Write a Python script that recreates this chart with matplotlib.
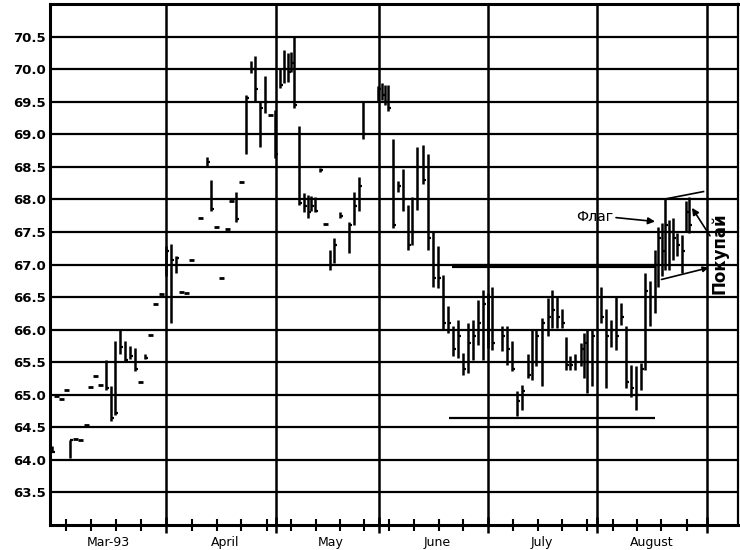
import matplotlib
matplotlib.use('Agg')
import numpy as np
import matplotlib.pyplot as plt
from matplotlib import transforms

# trading day index (1 unit = one session), high, low, close
days = [0.4, 1.2, 2.2, 3.2, 4.0, 5.0, 6.0, 7.2, 8.0, 9.0, 10.0, 11.2, 12.2, 13.0,
        14.0, 15.0, 16.0, 17.0, 18.0, 19.0, 20.0, 21.0, 22.2,
        23.2, 24.2, 25.2, 26.2, 27.2, 28.2, 30.0, 31.4, 32.2, 33.2, 34.2, 35.4,
        36.2, 37.2, 38.2, 39.2, 40.2, 41.0, 42.0, 43.0, 44.0, 45.0,
        46.0, 46.8, 47.6, 48.2, 48.8, 49.8, 50.8, 51.6, 52.2, 53.0, 54.0, 55.0,
        56.0, 56.8, 58.0, 59.8, 60.8, 61.8, 62.6, 65.6, 66.4, 67.0, 67.6,
        68.6, 69.6, 70.6, 71.6, 72.4, 73.4, 74.6, 75.6, 76.6, 77.6, 78.6, 79.6,
        80.6, 81.6, 82.6, 83.6, 84.6, 85.6, 86.6,
        87.6, 88.4, 90.4, 91.4, 92.4, 93.4, 94.4, 95.6, 96.4, 97.2, 98.4, 99.6,
        100.4, 101.4, 102.4, 103.2, 104.0, 105.0, 106.2, 106.8, 107.4, 108.4,
        110.2, 111.2, 112.2, 113.2, 114.2, 115.2, 116.2, 117.2, 118.2, 119.0,
        120.0, 121.0, 121.6, 122.4, 123.0, 123.8, 124.6, 125.4, 126.4, 127.2, 127.8]
highs = [64.22, 64.98, 64.93, 65.07, 64.31, 64.32, 64.30, 64.53, 65.12, 65.29, 65.15,
         65.54, 65.13, 65.82, 66.00, 65.82, 65.75, 65.72, 65.19, 65.62, 65.91, 66.40, 66.54,
         67.28, 67.32, 67.13, 66.58, 66.56, 67.07, 67.72, 68.65, 68.30, 67.58, 66.80, 67.55,
         67.98, 68.12, 68.26, 69.60, 70.12, 70.20, 69.49, 69.89, 69.29, 69.38,
         70.02, 70.30, 70.25, 70.27, 70.50, 69.12, 68.10, 68.07, 68.05, 68.03, 68.48, 67.62,
         67.23, 67.41, 67.80, 67.66, 68.12, 68.35, 69.49, 69.74, 69.79, 69.76, 69.76,
         68.92, 68.28, 68.46, 67.92, 68.03, 68.80, 68.84, 68.69, 67.51, 67.28, 66.84, 66.36,
         66.05, 66.15, 65.64, 66.10, 66.15, 66.46, 66.61,
         66.57, 66.65, 66.05, 66.05, 65.82, 65.05, 65.15, 65.62, 66.00, 66.00, 66.18, 66.49,
         66.61, 66.51, 66.31, 65.88, 65.59, 65.62, 65.80, 65.95, 66.00, 66.00,
         66.66, 66.31, 66.15, 66.51, 66.41, 66.05, 65.46, 65.44, 65.49, 66.87,
         66.74, 67.23, 67.57, 67.64, 68.00, 67.69, 67.72, 67.49, 67.46, 67.97, 68.03]
lows = [64.12, 64.98, 64.93, 65.07, 64.03, 64.32, 64.30, 64.53, 65.12, 65.29, 65.15,
        65.08, 64.59, 64.69, 65.62, 65.51, 65.55, 65.37, 65.19, 65.55, 65.91, 66.40, 66.54,
        66.82, 66.10, 66.87, 66.58, 66.56, 67.07, 67.72, 68.50, 67.82, 67.58, 66.80, 67.55,
        67.98, 67.66, 68.26, 68.69, 69.94, 69.50, 68.81, 69.33, 69.29, 68.64,
        69.71, 69.79, 69.80, 69.95, 69.40, 67.92, 67.80, 67.72, 67.82, 67.80, 68.42, 67.62,
        66.92, 67.03, 67.72, 67.18, 67.61, 67.82, 68.92, 69.51, 69.53, 69.45, 69.35,
        67.56, 68.12, 67.82, 67.23, 67.30, 67.84, 68.23, 67.23, 66.66, 66.64, 66.00, 65.95,
        65.59, 65.56, 65.31, 65.33, 65.54, 65.77, 65.54,
        65.72, 65.69, 65.67, 65.46, 65.36, 64.67, 64.77, 65.26, 65.23, 65.44, 65.13, 65.90,
        66.03, 66.03, 66.03, 65.38, 65.38, 65.38, 65.44, 65.26, 65.03, 65.13,
        66.10, 65.11, 65.74, 65.69, 66.07, 65.11, 64.97, 64.77, 65.08, 65.38,
        66.05, 66.26, 66.66, 66.82, 66.92, 66.92, 67.07, 67.13, 66.87, 67.51, 67.49]
closes = [64.12, 64.98, 64.93, 65.07, 64.31, 64.32, 64.30, 64.53, 65.12, 65.29, 65.15,
          65.10, 64.65, 64.72, 65.74, 65.53, 65.60, 65.40, 65.19, 65.56, 65.91, 66.40, 66.54,
          67.20, 67.07, 67.10, 66.58, 66.56, 67.07, 67.72, 68.58, 67.85, 67.58, 66.80, 67.55,
          67.98, 67.70, 68.26, 69.55, 70.00, 69.70, 69.40, 69.50, 69.29, 68.70,
          69.75, 70.00, 69.95, 70.10, 69.45, 67.95, 67.90, 67.80, 67.90, 67.82, 68.45, 67.62,
          67.00, 67.30, 67.75, 67.60, 67.90, 68.20, 69.00, 69.70, 69.60, 69.50, 69.40,
          67.60, 68.20, 68.00, 67.30, 67.50, 68.50, 68.30, 67.40, 66.80, 66.80, 66.10, 66.10,
          65.70, 65.90, 65.40, 65.80, 65.90, 66.10, 66.40,
          66.00, 65.80, 65.90, 65.70, 65.40, 64.90, 65.05, 65.30, 65.50, 65.90, 66.10, 66.20,
          66.30, 66.20, 66.10, 65.45, 65.45, 65.50, 65.70, 65.80, 65.50, 65.90,
          66.20, 65.90, 66.00, 65.90, 66.20, 65.20, 65.10, 65.00, 65.40, 66.60,
          66.50, 67.00, 67.40, 67.20, 67.60, 67.50, 67.40, 67.30, 67.20, 67.80, 67.60]

months = ['Mar-93', 'April', 'May', 'June', 'July', 'August']
month_starts = [23.2, 45.2, 65.8, 87.6, 109.4, 131.4]
month_label_x = [11.6, 35.0, 56.2, 77.4, 98.4, 120.4]
week_ticks = [3.1, 8.1, 13.1, 18.1, 28.3, 33.3, 38.1, 43.3, 48.2, 53.2, 58.0, 62.8,
              67.8, 72.8, 77.8, 82.6, 92.5, 97.5, 102.3, 107.3, 112.5, 117.3, 122.2, 127.3]
y_ticks = np.arange(63.5, 70.51, 0.5)

resistance = 66.97          # thick line over the base
support = 64.64             # base floor
flag_top = [(123.3, 68.01), (130.7, 68.12)]
flag_bottom = [(122.3, 66.77), (131.7, 66.95)]

d = np.array(days)
h = np.array(highs)
l = np.array(lows)
c = np.array(closes)

fig = plt.figure(figsize=(7.4, 5.5), dpi=100)
ax = fig.add_axes([50/740, 25/550, 688/740, 521/550])
ax.set_xlim(0, 137.6)
ax.set_ylim(63.0, 71.0)

for y in y_ticks:
    ax.axhline(y, color='black', lw=1.6, zorder=1)
for x in month_starts:
    ax.axvline(x, color='black', lw=1.8, zorder=1)

bar = h - l > 0.02
ax.vlines(d[bar], l[bar], h[bar], color='black', lw=1.8, zorder=3)
ax.hlines(c[bar], d[bar], d[bar] + 0.6, color='black', lw=1.6, zorder=3)
ax.hlines(c[~bar], d[~bar] - 0.5, d[~bar] + 0.5, color='black', lw=2.0, zorder=3)

ax.hlines(resistance, 80.4, 121.0, color='black', lw=3.0, zorder=2)
ax.hlines(support, 79.8, 121.0, color='black', lw=1.6, zorder=2)

ax.plot(*zip(*flag_top), color='black', lw=1.2, zorder=4)
ax.annotate('', xy=flag_bottom[1], xytext=flag_bottom[0],
            arrowprops=dict(arrowstyle='-|>', color='black', lw=1.2,
                            mutation_scale=8, shrinkA=0, shrinkB=0), zorder=4)

ax.text(109.0, 67.73, 'Флаг', ha='center', va='center', fontsize=10)
ax.annotate('', xy=(121.0, 67.66), xytext=(113.2, 67.72),
            arrowprops=dict(arrowstyle='-|>', color='black', lw=1.2,
                            mutation_scale=10, shrinkA=0, shrinkB=0))
ax.annotate('', xy=(128.4, 67.87), xytext=(132.0, 67.44),
            arrowprops=dict(arrowstyle='-|>', color='black', lw=1.2,
                            mutation_scale=10, shrinkA=0, shrinkB=0))
ax.text(134.0, 67.17, 'Покупай', rotation=90, ha='center', va='center',
        fontsize=12, fontweight='bold')

ax.set_yticks(y_ticks)
ax.set_yticklabels(['%.1f' % v for v in y_ticks], fontweight='bold', fontsize=9.5)
ax.tick_params(axis='y', length=0, pad=3)

ax.set_xticks(month_starts)
ax.set_xticklabels([])
ax.set_xticks(week_ticks, minor=True)
ax.tick_params(axis='x', which='major', direction='inout', length=12, width=1.8)
ax.tick_params(axis='x', which='minor', direction='inout', length=8, width=1.5)

trans = transforms.blended_transform_factory(ax.transData, ax.transAxes)
for name, x in zip(months, month_label_x):
    ax.text(x, -0.033, name, transform=trans, ha='center', va='center', fontsize=9)

for side in ['left', 'bottom', 'top']:
    ax.spines[side].set_linewidth(2.2)
ax.spines['right'].set_linewidth(1.6)

fig.savefig('out.png', dpi=100)
